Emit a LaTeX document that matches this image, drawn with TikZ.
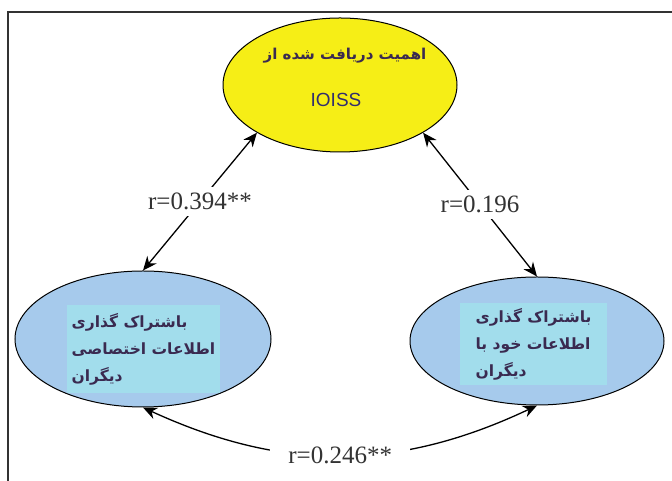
\documentclass[tikz,border=0pt]{standalone}
\usepackage{fontspec}
\setmainfont{Liberation Serif}
\setsansfont{Liberation Sans}
\newfontfamily\arabicfont[Script=Arabic]{DejaVu Sans}
\TeXXeTstate=1
\usetikzlibrary{shapes.geometric,arrows.meta}
\definecolor{yelfill}{RGB}{246,238,22}
\definecolor{blufill}{RGB}{166,202,236}
\definecolor{boxfill}{RGB}{162,221,236}
\definecolor{fatxt}{RGB}{58,42,80}
\definecolor{ioiss}{RGB}{50,46,110}
\begin{document}
\begin{tikzpicture}[x=1pt,y=1pt,
>={Stealth[length=14pt,width=12pt]},
yel/.style = {draw,ellipse,line width=1pt,fill=yelfill,minimum width=234pt,minimum height=134pt,inner sep=0pt},
blu/.style = {draw,ellipse,line width=1pt,fill=blufill,inner sep=0pt},
box/.style = {fill=boxfill,inner sep=0pt,align=left,text=fatxt,font=\arabicfont\bfseries\fontsize{15.5}{27}\selectfont},
lab/.style = {fill=white,inner sep=6pt,text=black!80,font=\fontsize{25}{30}\selectfont},
arr/.style = {draw,<->,line width=1.3pt}
]
  \useasboundingbox (0,0) rectangle (672,481);
  \draw[line width=2pt,black!80] (8,0) -- (8,469) -- (672,469);

  \node[yel] (top) at (340,396) {};
  \node[text=fatxt,font=\arabicfont\bfseries\fontsize{15}{18}\selectfont] (topa) at (345,425) {\beginR اهمیت دریافت شده از\endR};
  \node[text=ioiss,font=\sffamily\fontsize{19}{22}\selectfont] (topb) at (336,381) {IOISS};

  \node[blu,minimum width=256pt,minimum height=136pt] (lft) at (143,142) {};
  \node[box,minimum width=153pt,minimum height=88pt] (lbox) at (143.5,132)
    {\beginR باشتراک گذاری\endR\\ \beginR اطلاعات اختصاصی\endR\\ \beginR دیگران\endR};

  \node[blu,minimum width=254pt,minimum height=128pt] (rgt) at (537,140) {};
  \node[box,minimum width=147pt,minimum height=82pt] (rbox) at (533.5,137)
    {\beginR باشتراک گذاری\endR\\ \beginR اطلاعات خود با\endR\\ \beginR دیگران\endR};

  \path[arr] (lft.north) -- (top.south west) node [midway,lab] {r=0.394**};
  \path[arr] (rgt.north) -- (top.south east) node [midway,lab] {r=0.196};
  \path[arr] (lft.south) to[bend right=25] node [midway,lab,inner xsep=18pt] {r=0.246**} (rgt.south);
\end{tikzpicture}
\end{document}
